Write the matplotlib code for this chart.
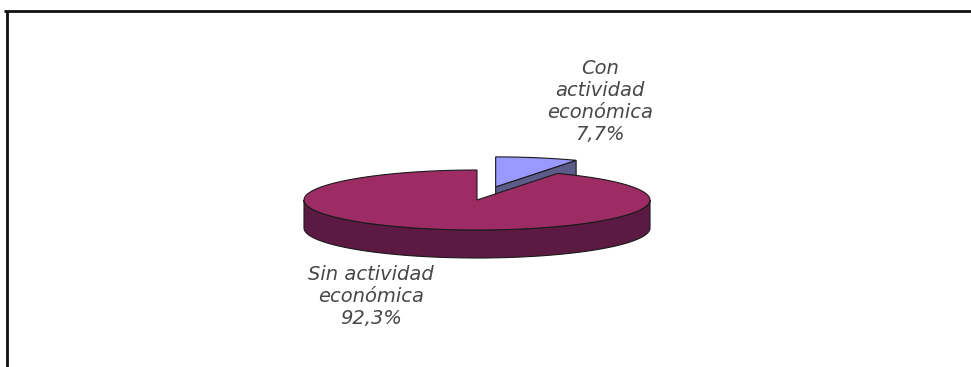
import matplotlib.pyplot as plt
import numpy as np
from matplotlib.patches import Polygon

# share of population by economic activity
labels = ['Sin actividad\neconómica', 'Con\nactividad\neconómica']
shares = [92.3, 7.7]
top_colors = ['#9e2c64', '#9999ff']
side_colors = ['#5c1a42', '#5c5c8a']

# pie geometry in pixel units
CX, CY = 477, 200      # centre of the top face
RX, RY = 173, 30       # ellipse radii
DEPTH = 28             # height of the pie wall
EXPLODE = 0.45         # radial offset of the small slice


def arc(cx, cy, a0, a1, n=120, dy=0):
    t = np.radians(np.linspace(a0, a1, n))
    return np.column_stack([cx + RX * np.cos(t), cy - RY * np.sin(t) + dy])


def draw_slice(ax, cx, cy, a0, a1, top, side):
    '''Draws one slice of a tilted pie: wall, cut face, top.'''
    edge = dict(edgecolor='#1a1a1a', linewidth=0.8)
    # front wall, only where the arc faces the viewer
    lo, hi = max(a0, 180), min(a1, 360)
    if hi > lo:
        up = arc(cx, cy, lo, hi)
        down = arc(cx, cy, hi, lo, dy=DEPTH)
        ax.add_patch(Polygon(np.vstack([up, down]), facecolor=side, **edge))
    # cut face at the start angle faces front-right
    p = arc(cx, cy, a0, a0, n=1)[0]
    face = [(cx, cy), p, (p[0], p[1] + DEPTH), (cx, cy + DEPTH)]
    if 0 <= a0 % 360 < 90:
        ax.add_patch(Polygon(face, facecolor=side, **edge))
    # top face
    pts = np.vstack([[cx, cy], arc(cx, cy, a0, a1), [cx, cy]])
    ax.add_patch(Polygon(pts, facecolor=top, **edge))


fig = plt.figure(figsize=(9.71, 3.67), dpi=100)
ax = fig.add_axes([0, 0, 1, 1])
ax.set_xlim(0, 971)
ax.set_ylim(367, 0)
ax.axis('off')

# slice angles, counter-clockwise from 12 o'clock
spans = np.array(shares) / sum(shares) * 360
big0, big1 = 90, 90 + spans[0]
small0, small1 = big1 - 360, 90

# small slice pulled out toward the back, drawn first
mid = np.radians((small0 + small1) / 2)
sx = CX + EXPLODE * RX * np.cos(mid)
sy = CY - EXPLODE * RY * np.sin(mid)
draw_slice(ax, sx, sy, small0, small1, top_colors[1], side_colors[1])
draw_slice(ax, CX, CY, big0, big1, top_colors[0], side_colors[0])

text_style = dict(fontsize=14, fontstyle='italic', color='#484848',
                  ha='center', va='center', linespacing=1.2,
                  family='DejaVu Sans')
label_pos = [(371, 297), (600, 102)]
for lab, val, (x, y) in zip(labels, shares, label_pos):
    txt = f'{lab}\n{val:.1f}%'.replace('.', ',')
    ax.text(x, y, txt, **text_style)

# frame lines along the top and left edges
ax.plot([4, 971], [11, 11], color='#111111', lw=2, solid_capstyle='butt')
ax.plot([7, 7], [11, 367], color='#111111', lw=2, solid_capstyle='butt')

fig.savefig('out.png', dpi=100)
